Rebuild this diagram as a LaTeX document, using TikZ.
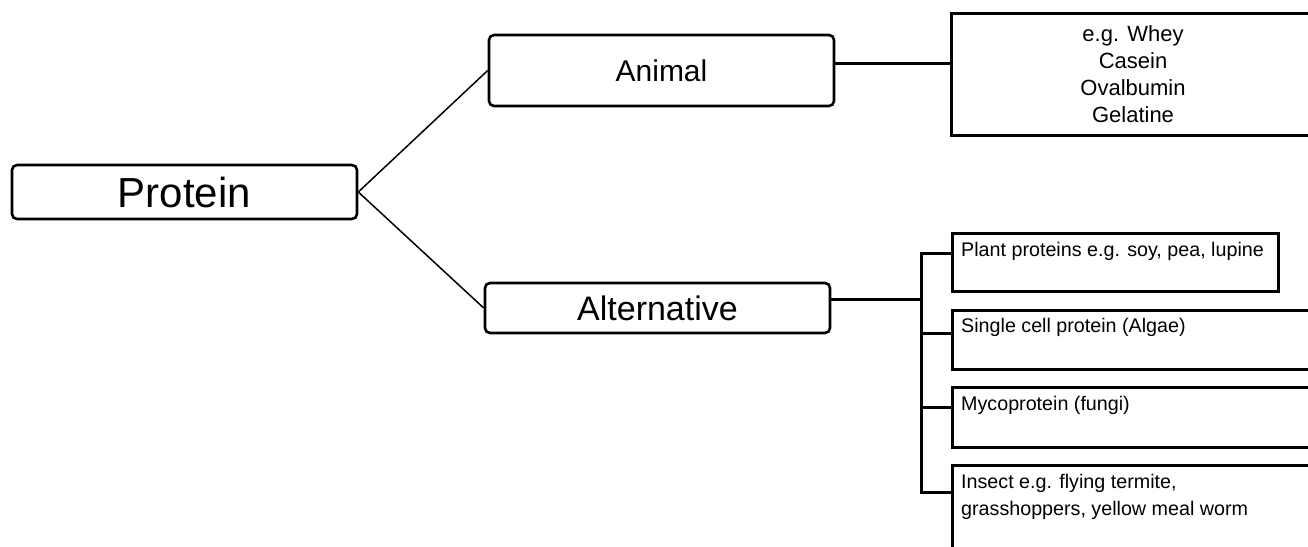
\documentclass[tikz,border=0pt]{standalone}
\usepackage{fontspec}
\setmainfont{Liberation Sans}
\begin{document}
\begin{tikzpicture}[x=1pt,y=-1pt,
  rbox/.style={draw, line width=2.6pt, rounded corners=5pt, inner sep=0pt},
  sbox/.style={draw, line width=3pt, inner sep=0pt},
  thinline/.style={line width=1.5pt},
  thickline/.style={line width=3pt, line join=miter},
  smalltext/.style={font=\fontsize{19.7}{27.5}\selectfont, align=left, inner sep=0pt}]
\path[use as bounding box] (0,0) rectangle (1308,546);
\clip (0,0) rectangle (1308,546);

\node[rbox, minimum width=345pt, minimum height=54pt, font=\fontsize{42}{50}\selectfont] (protein) at (184.5,192) {Protein};
\node[rbox, minimum width=345pt, minimum height=71pt, font=\fontsize{30}{36}\selectfont] (animal) at (661.5,70.5) {Animal};
\node[rbox, minimum width=345pt, minimum height=50pt, font=\fontsize{34}{40}\selectfont] (alt) at (657.5,308) {Alternative};

\node[sbox, minimum width=364pt, minimum height=122pt, align=center, font=\fontsize{22}{27}\selectfont] (ex) at (1133,74) {e.g. Whey\\Casein\\Ovalbumin\\Gelatine};

\node[sbox, minimum width=326pt, minimum height=58pt,
  label={[smalltext, anchor=north west, xshift=10.5pt, yshift=-10.5pt]north west:Plant proteins e.g. soy, pea, lupine}] (plant) at (1115,262) {};
\node[sbox, minimum width=379pt, minimum height=59pt,
  label={[smalltext, anchor=north west, xshift=10.5pt, yshift=-10pt]north west:Single cell protein (Algae)}] (single) at (1141.5,339.5) {};
\node[sbox, minimum width=379pt, minimum height=60pt,
  label={[smalltext, anchor=north west, xshift=10.5pt, yshift=-10.5pt]north west:Mycoprotein (fungi)}] (myco) at (1141.5,417.5) {};
\node[sbox, minimum width=379pt, minimum height=95pt,
  label={[smalltext, anchor=north west, xshift=10.5pt, yshift=-10.5pt]north west:Insect e.g. flying termite,\\grasshoppers, yellow meal worm}] (insect) at (1141.5,512.5) {};

\draw[thinline] (protein.east) -- (animal.west);
\draw[thinline] (protein.east) -- (alt.west);
\draw[thickline] ([yshift=7.5pt]animal.east) -- ([yshift=11pt]ex.west);

\coordinate (bx) at (921,299);
\coordinate (b1) at ([yshift=9pt]plant.west);
\coordinate (b2) at ([yshift=6.5pt]single.west);
\coordinate (b3) at ([yshift=10.5pt]myco.west);
\coordinate (b4) at ([yshift=20.5pt]insect.west);
\draw[thickline] ([yshift=9pt]alt.east) -- (bx);
\draw[thickline] (b1) -| (bx) |- (b4);
\draw[thickline] (b2) -- (b2 -| bx);
\draw[thickline] (b3) -- (b3 -| bx);
\end{tikzpicture}
\end{document}
